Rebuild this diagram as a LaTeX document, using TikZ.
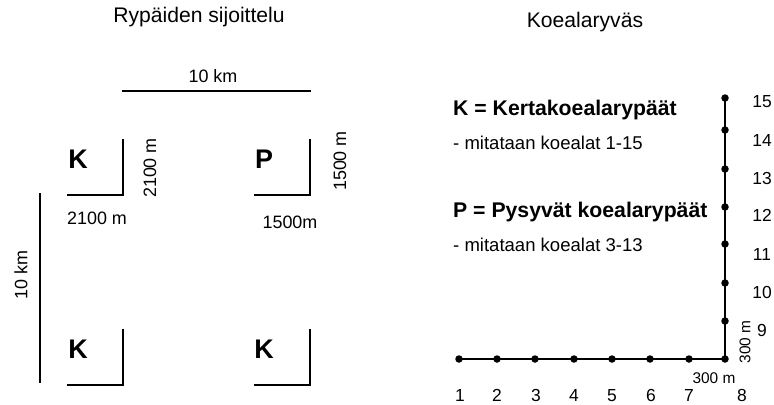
\documentclass[tikz,border=0pt]{standalone}
\usepackage{fontspec}
\setmainfont{Liberation Sans}
\begin{document}
\begin{tikzpicture}[x=1bp,y=-1bp,
  ttl/.style={inner sep=0pt,font=\fontsize{21.2}{24}\selectfont},
  txt/.style={inner sep=0pt,font=\fontsize{18}{21}\selectfont},
  num/.style={inner sep=0pt,font=\fontsize{17.5}{20}\selectfont},
  sml/.style={inner sep=0pt,font=\fontsize{15.5}{18}\selectfont},
  big/.style={inner sep=0pt,font=\fontsize{27}{30}\bfseries\selectfont},
  head/.style={inner sep=0pt,anchor=west,font=\fontsize{21.3}{24}\bfseries\selectfont},
  sub/.style={inner sep=0pt,anchor=west,font=\fontsize{18.6}{21}\selectfont},
  ln/.style={line width=1.2bp},
  dot/.style={circle,fill=black,inner sep=0pt,minimum size=7.5bp}]
\useasboundingbox (0,0) rectangle (774,404);
% titles
\node[ttl] (t1) at (199,17) {Rypäiden sijoittelu};
\node[ttl] (t2) at (585,22) {Koealaryväs};
% left: 10 km scale lines
\coordinate (hA) at (122,91); \coordinate (hB) at (311,91);
\draw[ln] (hA) -- (hB);
\node[txt] (hkm) at (213,76) {10 km};
\coordinate (vA) at (40,193); \coordinate (vB) at (40,383);
\draw[ln] (vA) -- (vB);
\node[txt,rotate=90] (vkm) at (21,275) {10 km};
% brackets
\foreach \n/\x/\y in {k1/123/139, p1/310/139, k2/123/329, k3/310/329}{
  \coordinate (\n a) at (\x,\y);
  \coordinate (\n b) at (\x,\y+56);
  \coordinate (\n c) at (\x-56,\y+56);
  \draw[ln] (\n a) -- (\n b) -- (\n c);
}
\node[big] (K1) at (78,159) {K};
\node[big] (P1) at (264,159) {P};
\node[big] (K2) at (78,349) {K};
\node[big] (K3) at (264,349) {K};
\node[txt,rotate=90] (d21v) at (150,168) {2100 m};
\node[txt] (d21h) at (97,218) {2100 m};
\node[txt,rotate=90] (d15v) at (340,161) {1500 m};
\node[txt] (d15h) at (290,222) {1500m};
% right: legend
\node[head] (lk) at (453,110) {K = Kertakoealarypäät};
\node[sub] (lk2) at (453,143) {- mitataan koealat 1-15};
\node[head] (lp) at (453,212) {P = Pysyvät koealarypäät};
\node[sub] (lp2) at (453,245) {- mitataan koealat 3-13};
% plots
\foreach \i/\x in {1/459,2/497,3/535,4/574,5/612,6/650,7/689,8/725}{
  \node[dot] (d\i) at (\x,359) {};
}
\foreach \i/\y in {9/321,10/283,11/244,12/207,13/169,14/130,15/98}{
  \node[dot] (d\i) at (725,\y) {};
}
\draw[ln] (d1.center) -- (d8.center) -- (d15.center);
% numbers
\foreach \i/\x in {1/460,2/497,3/536,4/574,5/612,6/651,7/689,8/742}{
  \node[num,anchor=base] (n\i) at (\x,401) {\i};
}
\foreach \i/\y in {9/330,10/292,11/254,12/215,13/178,14/140,15/102}{
  \node[num] (n\i) at (762,\y) {\i};
}
\node[sml] (m300h) at (714,378) {300 m};
\node[sml,rotate=90] (m300v) at (745,342) {300 m};
\end{tikzpicture}
\end{document}
